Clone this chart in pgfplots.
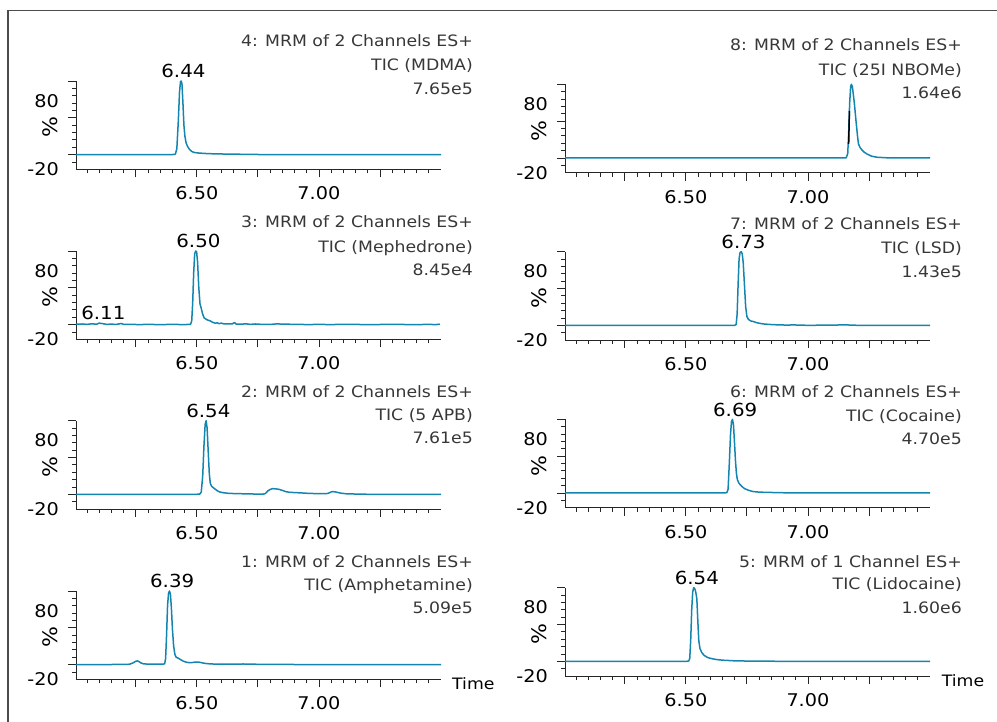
\documentclass[border=0pt]{standalone}
\usepackage{fontspec}
\setmainfont{DejaVu Sans}[FakeStretch=1.1]
\usepackage{pgfplots}
\pgfplotsset{compat=1.18}
\definecolor{trace}{RGB}{20,133,175}
\definecolor{ttl}{RGB}{55,55,55}
\tikzset{
  tl/.style={inner sep=0pt, font=\fontsize{17.5}{20}\selectfont, text=black},
  pc/.style={inner sep=0pt, font=\fontsize{20}{22}\selectfont, text=black},
  pk/.style={inner sep=0pt, font=\fontsize{18}{21}\selectfont, text=black},
  tt/.style={inner sep=0pt, font=\fontsize{15.7}{19}\selectfont, text=ttl},
}
\pgfplotsset{panel/.style={
  scale only axis, width=365pt, height=88.3pt, anchor=south west,
  xmin=6.005, xmax=7.5, ymin=-20, ymax=100,
  axis lines*=left, axis line style={-, line width=0.9pt, black!85},
  tick align=outside, major tick length=8pt, minor tick length=4pt,
  xtick={6.25,6.5,6.75,7,7.25},
  minor xtick={6.05,6.10,6.15,6.20,6.30,6.35,6.40,6.45,6.55,6.60,6.65,6.70,6.80,6.85,6.90,6.95,7.05,7.10,7.15,7.20,7.30,7.35,7.40,7.45},
  ytick={0,50,100}, minor ytick={-10,10,20,30,40,60,70,80,90},
  xticklabels={}, yticklabels={},
  tick style={black!85, line width=0.8pt},
  clip=false,
  cycle list={{trace, no markers}},
  every axis plot post/.append style={line width=1.5pt, line join=round},
}}
\newcommand{\axlabels}{%
  \node[tl, anchor=east] at ([xshift=-17pt]axis cs:6.005,-20) {-20};
  \node[tl, anchor=east] at ([xshift=-17pt]axis cs:6.005,73) {80};
  \node[pc, rotate=90, anchor=center] at ([xshift=-26pt]axis cs:6.005,37) {\%};
  \node[tl, anchor=base] at ([yshift=-30.7pt]axis cs:6.5,-20) {6.50};
  \node[tl, anchor=base] at ([yshift=-30.7pt]axis cs:7,-20) {7.00};
}
\newcommand{\peak}[2]{\node[pk, anchor=base] at ([yshift=3pt]axis cs:#1,100) {#2};}
\newcommand{\ttl}[3]{\node[tt, anchor=base east] at (#1pt,#2pt) {#3};}
\begin{document}
\begin{tikzpicture}
\path[use as bounding box] (0,0) rectangle (997pt,722pt);
\draw[line width=1.3pt, color=black!70] (8pt,0pt) -- (8pt,711.3pt) -- (997pt,711.3pt);

% ---------- Panel 4: MDMA ----------
\begin{axis}[panel, at={(76pt,552.7pt)}]
\addplot coordinates {(6.005,0) (6.40,0) (6.412,0.5) (6.418,8) (6.424,45) (6.429,85) (6.433,99) (6.436,100) (6.439,96) (6.443,70) (6.447,40) (6.451,25) (6.456,16) (6.462,11) (6.47,7) (6.48,4) (6.49,2.8) (6.51,2) (6.55,1.2) (6.6,0.8) (6.65,0.6) (6.7,0.3) (6.75,0.1) (6.8,0) (7.5,0)};
\axlabels
\peak{6.445}{6.44}
\end{axis}
\ttl{473}{675}{4: MRM of 2 Channels ES+}
\ttl{473}{651}{TIC (MDMA)}
\ttl{473}{627}{7.65e5}

% ---------- Panel 3: Mephedrone ----------
\begin{axis}[panel, at={(76pt,382.7pt)}]
\addplot coordinates {(6.005,0.5) (6.03,0.8) (6.05,0.3) (6.07,1) (6.09,0.5) (6.10,2) (6.11,1.5) (6.13,0.3) (6.15,0.6) (6.17,0.2) (6.19,1.5) (6.20,0.3) (6.23,0.3) (6.26,0) (6.3,0.2) (6.35,0) (6.4,0.2) (6.45,0) (6.474,0.3) (6.479,5) (6.483,30) (6.487,70) (6.491,96) (6.495,100) (6.499,99) (6.503,85) (6.508,50) (6.513,28) (6.518,22) (6.524,14) (6.530,9) (6.537,7.5) (6.545,6) (6.555,5) (6.565,3) (6.575,2) (6.585,2.3) (6.59,1.2) (6.6,2) (6.61,1) (6.625,0.8) (6.645,1) (6.655,2.8) (6.66,0.8) (6.68,0.5) (6.7,1) (6.72,0.3) (6.74,0.8) (6.76,0.4) (6.8,0.2) (6.83,1) (6.85,0.5) (6.9,0.4) (6.95,0) (7.0,0.2) (7.05,0) (7.1,0.3) (7.2,0) (7.3,0.2) (7.4,0) (7.45,0.2) (7.48,0) (7.495,0.6)};
\axlabels
\peak{6.5065}{6.50}
\node[pk, anchor=base] at ([yshift=5pt]axis cs:6.117,0) {6.11};
\end{axis}
\ttl{473}{494}{3: MRM of 2 Channels ES+}
\ttl{473}{469.5}{TIC (Mephedrone)}
\ttl{473}{446}{8.45e4}

% ---------- Panel 2: 5 APB ----------
\begin{axis}[panel, at={(76pt,213pt)}]
\addplot coordinates {(6.005,0) (6.50,0) (6.512,0.3) (6.518,3) (6.524,25) (6.529,65) (6.534,95) (6.538,100) (6.542,90) (6.547,55) (6.551,28) (6.555,15) (6.56,11) (6.567,9) (6.575,7) (6.585,4.5) (6.595,3) (6.61,2) (6.63,1.3) (6.65,1) (6.7,0.6) (6.74,0.3) (6.77,0.2) (6.78,0.8) (6.792,5) (6.80,6.5) (6.81,7.7) (6.822,7.3) (6.833,7) (6.843,6) (6.853,5) (6.865,3.5) (6.88,2.7) (6.9,2.3) (6.92,2) (6.949,1.4) (6.98,1) (7.003,0.8) (7.03,0.8) (7.04,1.5) (7.05,3.2) (7.057,3.6) (7.067,3.2) (7.077,2.5) (7.09,1.5) (7.112,0.7) (7.14,0.4) (7.17,0.2) (7.2,0) (7.5,0)};
\axlabels
\peak{6.547}{6.54}
\end{axis}
\ttl{473}{324.5}{2: MRM of 2 Channels ES+}
\ttl{473}{301}{TIC (5 APB)}
\ttl{473}{278}{7.61e5}

% ---------- Panel 1: Amphetamine ----------
\begin{axis}[panel, at={(76pt,42.7pt)}]
\addplot coordinates {(6.005,0) (6.1,0) (6.2,0.2) (6.225,0.5) (6.24,2.5) (6.25,4.5) (6.256,5) (6.263,4) (6.272,2) (6.282,1) (6.3,0.6) (6.33,0.5) (6.36,0.6) (6.368,1) (6.372,8) (6.376,40) (6.38,80) (6.384,97) (6.388,100) (6.392,95) (6.396,75) (6.40,48) (6.405,25) (6.41,14) (6.415,10) (6.422,9) (6.432,7) (6.445,4.5) (6.459,3) (6.475,2.5) (6.49,3.2) (6.50,3.5) (6.51,3.2) (6.527,2) (6.54,1.3) (6.554,1) (6.58,0.5) (6.62,0.5) (6.66,0.6) (6.69,0.8) (6.72,0.5) (6.8,0.3) (6.9,0.1) (7.0,0) (7.5,0)};
\axlabels
\peak{6.399}{6.39}
\end{axis}
\ttl{473}{154.5}{1: MRM of 2 Channels ES+}
\ttl{473}{131}{TIC (Amphetamine)}
\ttl{473}{108}{5.09e5}
\node[tt, text=black, anchor=base west] at (452pt,32.7pt) {Time};

% ---------- Panel 8: 25I NBOMe ----------
\begin{axis}[panel, at={(565pt,549.3pt)}]
\addplot coordinates {(6.005,0) (7.15,0) (7.157,0.3) (7.163,6) (7.167,35) (7.171,75) (7.175,97) (7.178,100) (7.182,97) (7.19,75) (7.197,50) (7.203,30) (7.207,19) (7.214,14) (7.221,11) (7.23,8) (7.242,5.4) (7.26,2.5) (7.283,1) (7.32,0.3) (7.36,0) (7.5,0)};
\addplot[black, no markers, line width=0.8pt] coordinates {(7.167,19) (7.170,64)};
\axlabels
\end{axis}
\ttl{962}{671}{8: MRM of 2 Channels ES+}
\ttl{962}{646}{TIC (25I NBOMe)}
\ttl{962}{623}{1.64e6}

% ---------- Panel 7: LSD ----------
\begin{axis}[panel, at={(565pt,382pt)}]
\addplot coordinates {(6.005,0) (6.70,0) (6.706,1) (6.71,15) (6.714,55) (6.718,90) (6.722,99) (6.727,100) (6.731,97) (6.735,85) (6.74,55) (6.745,25) (6.75,12) (6.756,8) (6.765,6) (6.777,5) (6.79,3.5) (6.805,2.5) (6.818,1.8) (6.84,1.2) (6.86,0.8) (6.886,0.5) (6.92,0.2) (6.94,0.7) (6.96,0.1) (7.0,0) (7.1,0.1) (7.15,0.7) (7.17,0.3) (7.2,0) (7.5,0)};
\axlabels
\peak{6.736}{6.73}
\end{axis}
\ttl{962}{492}{7: MRM of 2 Channels ES+}
\ttl{962}{468}{TIC (LSD)}
\ttl{962}{444.5}{1.43e5}

% ---------- Panel 6: Cocaine ----------
\begin{axis}[panel, at={(565pt,214.3pt)}]
\addplot coordinates {(6.005,0) (6.66,0) (6.668,0.5) (6.673,5) (6.678,40) (6.683,80) (6.687,97) (6.691,100) (6.695,93) (6.699,70) (6.703,45) (6.707,27) (6.711,18) (6.718,13) (6.729,9) (6.74,6) (6.757,3.6) (6.775,2) (6.791,1.4) (6.82,0.9) (6.86,0.6) (6.9,0.3) (6.95,0.1) (7.0,0) (7.5,0)};
\axlabels
\peak{6.702}{6.69}
\end{axis}
\ttl{962}{324.5}{6: MRM of 2 Channels ES+}
\ttl{962}{300.5}{TIC (Cocaine)}
\ttl{962}{277}{4.70e5}

% ---------- Panel 5: Lidocaine ----------
\begin{axis}[panel, at={(565pt,46pt)}]
\addplot coordinates {(6.005,0) (6.505,0) (6.512,0.5) (6.516,4) (6.52,30) (6.524,70) (6.528,94) (6.532,100) (6.536,99) (6.54,95) (6.545,85) (6.549,55) (6.553,28) (6.558,17) (6.565,12) (6.575,8) (6.59,5) (6.607,3.5) (6.627,2.3) (6.65,1.5) (6.695,0.7) (6.75,0.3) (6.8,0.1) (6.9,0) (7.5,0)};
\axlabels
\peak{6.545}{6.54}
\end{axis}
\ttl{962}{154.5}{5: MRM of 1 Channel ES+}
\ttl{962}{132}{TIC (Lidocaine)}
\ttl{962}{108}{1.60e6}
\node[tt, text=black, anchor=base west] at (941.7pt,35.3pt) {Time};
\end{tikzpicture}
\end{document}
